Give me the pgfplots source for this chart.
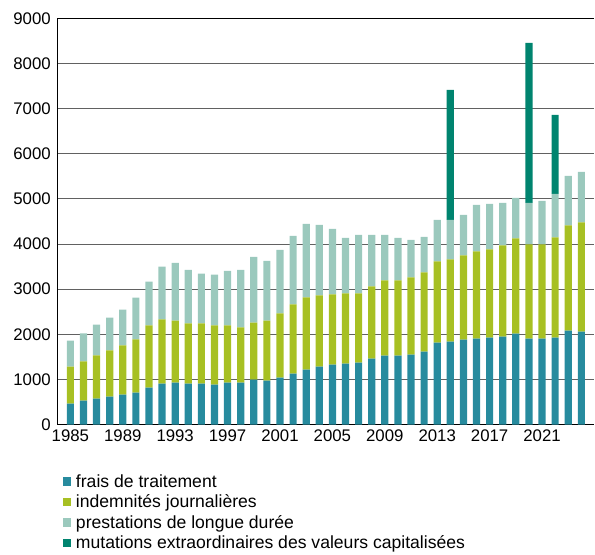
\documentclass[border=0pt]{standalone}
\usepackage{pgfplots}
\pgfplotsset{compat=1.18}
\usepackage{pgfplotstable}
\usepackage{fontspec}
\setmainfont{Liberation Sans}

\definecolor{cblue}{RGB}{39,139,158}
\definecolor{cgreen}{RGB}{167,192,35}
\definecolor{clight}{RGB}{155,201,189}
\definecolor{cdark}{RGB}{0,132,111}

% year, frais, indemnites, longue duree, mutations (stacked increments)
\pgfplotstableread{
year a b c d
1985 465 819 575 0
1986 531 871 619 0
1987 575 959 679 0
1988 620 1025 723 0
1989 664 1092 789 0
1990 708 1180 923 0
1991 819 1379 967 0
1992 907 1424 1166 0
1993 930 1372 1283 0
1994 907 1336 1187 0
1995 907 1336 1099 0
1996 885 1313 1122 0
1997 930 1268 1210 0
1998 930 1224 1276 0
1999 996 1261 1461 0
2000 974 1328 1327 0
2001 1040 1424 1409 0
2002 1129 1534 1520 0
2003 1217 1601 1630 0
2004 1284 1578 1564 0
2005 1328 1556 1454 0
2006 1350 1557 1232 0
2007 1372 1535 1298 0
2008 1461 1600 1144 0
2009 1527 1667 1011 0
2010 1527 1667 945 0
2011 1549 1712 833 0
2012 1616 1755 790 0
2013 1815 1800 922 0
2014 1837 1822 878 2877
2015 1881 1867 900 0
2016 1903 1933 1033 0
2017 1925 1955 1011 0
2018 1948 2021 944 0
2019 2014 2110 900 0
2020 1903 2088 922 3541
2021 1903 2088 966 0
2022 1925 2221 966 1749
2023 2080 2331 1100 0
2024 2058 2420 1121 0
}\data

\begin{document}
\begin{tikzpicture}
\begin{axis}[
    name=ax,
    width=537.7pt, height=406.7pt,
    scale only axis,
    ybar stacked,
    bar width=7.2pt,
    xmin=1984, xmax=2025,
    ymin=0, ymax=9000,
    xtick={1985,1989,...,2021},
    ytick={0,1000,...,9000},
    x tick label style={/pgf/number format/1000 sep={}, yshift=-2pt},
    y tick label style={/pgf/number format/1000 sep={}, xshift=-3pt},
    /pgf/number format/assume math mode=true,
    tick label style={font=\fontsize{16.8}{18}\selectfont},
    major tick length=0pt,
    axis x line=bottom, axis y line=left,
    axis line style={-, black, line width=1.1pt},
    ymajorgrids,
    major grid style={black!62, line width=1pt},
    legend style={at={(0.004,-0.112)}, anchor=north west, draw=none,
        font=\fontsize{17.6}{19}\selectfont, row sep=2.2pt,
        /tikz/every odd column/.append style={column sep=3pt}},
    legend cell align=left,
    legend image code/.code={\fill[#1] (0pt,-4.2pt) rectangle (8.4pt,4.2pt);},
]
\addplot[fill=cblue, draw=none] table[x=year, y=a] {\data};
\addplot[fill=cgreen, draw=none] table[x=year, y=b] {\data};
\addplot[fill=clight, draw=none] table[x=year, y=c] {\data};
\addplot[fill=cdark, draw=none] table[x=year, y=d] {\data};
\legend{frais de traitement, indemnités journalières, prestations de longue durée, mutations extraordinaires des valeurs capitalisées}
\end{axis}
\draw[black, line width=1pt] (ax.north west) -- (ax.north east);
\useasboundingbox (ax.south west) ++(-57.3pt,-126pt) rectangle ++(595pt,551pt);
\end{tikzpicture}
\end{document}
